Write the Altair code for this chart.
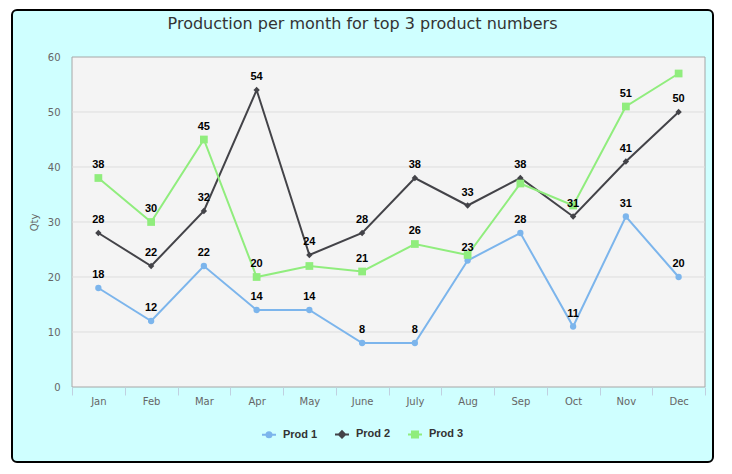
import altair as alt
import pandas as pd

months = ["Jan", "Feb", "Mar", "Apr", "May", "June", "July", "Aug", "Sep", "Oct", "Nov", "Dec"]
series_names = ["Prod 1", "Prod 2", "Prod 3"]
prod1 = [18, 12, 22, 14, 14, 8, 8, 23, 28, 11, 31, 20]
prod2 = [28, 22, 32, 54, 24, 28, 38, 33, 38, 31, 41, 50]
prod3 = [38, 30, 45, 20, 22, 21, 26, 24, 37, 33, 51, 57]
series_colors = ["#7CB5EC", "#434348", "#90ED7D"]
marker_shapes = ["circle", "diamond", "square"]
marker_sizes = [40, 40, 60]
hidden_labels = [("Prod 3", "May"), ("Prod 3", "Aug"), ("Prod 3", "Sep"),
                 ("Prod 3", "Oct"), ("Prod 3", "Dec")]
y_ticks = [0, 10, 20, 30, 40, 50, 60]
grid_values = [10, 20, 30, 40, 50]
title_text = "Production per month for top 3 product numbers"
y_title = "Qty"

# legend symbols: line segment with the marker on it
legend_paths = [
    "M-1,0H1M0.36,0A0.36,0.36,0,1,1,-0.36,0A0.36,0.36,0,1,1,0.36,0Z",
    "M-1,0H1M0,-0.45L0.45,0L0,0.45L-0.45,0Z",
    "M-1,0H1M-0.43,-0.43H0.43V0.43H-0.43Z",
]

rows = []
for name, vals in zip(series_names, [prod1, prod2, prod3]):
    for m, v in zip(months, vals):
        rows.append({"month": m, "series": name, "qty": v,
                     "show": (name, m) not in hidden_labels})
df = pd.DataFrame(rows)

W, H = 633, 330
AX_FONT = "DejaVu Sans"
LB_FONT = "Liberation Sans"

x_enc = alt.X("month:N", sort=months,
              scale=alt.Scale(type="band", domain=months, paddingInner=0, paddingOuter=0),
              axis=alt.Axis(title=None, labelAngle=0, tickBand="extent", tickSize=8,
                            tickColor="#C0D0E0", domain=False, grid=False,
                            labelColor="#666666", labelFont=AX_FONT, labelFontSize=10,
                            labelPadding=1, zindex=1))
y_scale = alt.Scale(domain=[0, 60], nice=False)
y_axis = alt.Axis(values=y_ticks, title=y_title, grid=False, ticks=False,
                  domain=False, labelColor="#666666", labelFont=AX_FONT,
                  labelFontSize=10, labelPadding=12, titleColor="#666666",
                  titleFont=AX_FONT, titleFontSize=10, titleFontWeight="normal",
                  titlePadding=8, zindex=1)
y_enc = alt.Y("qty:Q", scale=y_scale, axis=y_axis)
color_scale = alt.Scale(domain=series_names, range=series_colors)

leg = alt.Legend(title=None, orient="none", legendX=189, legendY=369,
                 direction="horizontal", symbolSize=196, symbolStrokeWidth=2,
                 labelFont=LB_FONT, labelFontSize=11, labelFontWeight="bold",
                 labelColor="#333333", labelOffset=6, columnPadding=13, padding=0,
                 symbolOpacity=1, zindex=1)
# invisible layer (hidden under the background) that only carries the legend
legend_layer = alt.Chart(df).mark_point(filled=True, opacity=1, strokeWidth=2, size=1).encode(
    fill=alt.Fill("series:N", scale=alt.Scale(domain=series_names, range=series_colors), legend=leg),
    stroke=alt.Stroke("series:N", scale=alt.Scale(domain=series_names, range=series_colors), legend=leg),
    shape=alt.Shape("series:N", scale=alt.Scale(domain=series_names, range=legend_paths), legend=leg),
)

one = alt.Data(values=[{}])
bg = alt.Chart(one).mark_rect(fill="#CFFFFF", stroke="#000000", strokeWidth=2,
                              cornerRadius=5).encode(
    x=alt.value(-60), x2=alt.value(641), y=alt.value(-47), y2=alt.value(405))
plot_bg = alt.Chart(one).mark_rect(fill="#F4F4F4", stroke="#A6A6A6", strokeWidth=1).encode(
    x=alt.value(0), x2=alt.value(W), y=alt.value(0), y2=alt.value(H))

grid = alt.Chart(pd.DataFrame({"qty": grid_values})).mark_rule(
    color="#DDDDDD", strokeWidth=1).encode(y=y_enc)

lines = alt.Chart(df).mark_line(strokeWidth=2).encode(
    x=x_enc, y=y_enc, color=alt.Color("series:N", scale=color_scale, legend=None))

points = []
for name, shp, sz, col in zip(series_names, marker_shapes, marker_sizes, series_colors):
    points.append(alt.Chart(df).transform_filter(alt.datum.series == name).mark_point(
        shape=shp, size=sz, filled=True, opacity=1, color=col).encode(x=x_enc, y=y_enc))

labels = alt.Chart(df).transform_filter(alt.datum.show).mark_text(
    dy=-13, font=LB_FONT, fontSize=11, fontWeight="bold", color="#000000").encode(
    x=x_enc, y=y_enc, text=alt.Text("qty:Q"))

chart = alt.layer(legend_layer, bg, plot_bg, grid, lines, *points, labels).properties(
    width=W, height=H,
    autosize=alt.AutoSizeParams(type="none"),
    padding={"left": 64, "top": 49, "right": 11, "bottom": 79},
    title=alt.TitleParams(title_text, font=AX_FONT, fontSize=16, fontWeight="normal",
                          color="#333333", anchor="middle", frame="group", dx=-26,
                          baseline="alphabetic", offset=-36, zindex=1),
).configure_view(stroke=None)

chart.save("out.html", embed_options={"renderer": "svg", "actions": False})
